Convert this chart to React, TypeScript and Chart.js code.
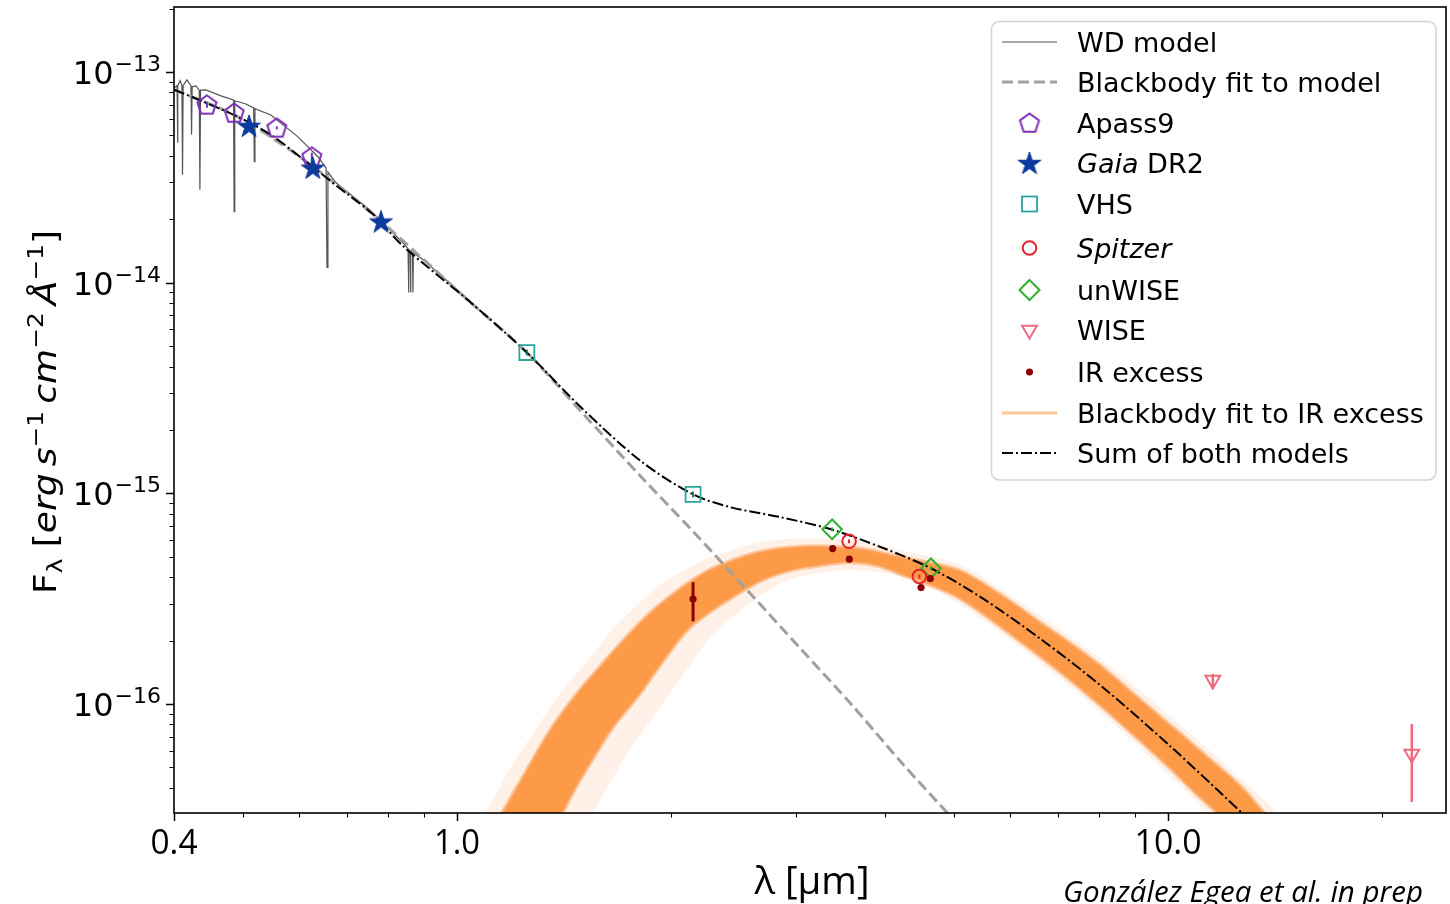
import React, { useEffect, useRef } from 'react';
import { Chart, registerables } from 'chart.js';

Chart.register(...registerables);

// ---------------- axis limits & ticks ----------------
const X_MIN = 0.4;
const X_MAX = 24.6;
const Y_MIN = 3.04e-17;
const Y_MAX = 2.034e-13;

const xMajorTicks = [0.4, 1, 10];
const xMajorLabels = ['0.4', '1.0', '10.0'];
const xMinorTicks = [0.5, 0.6, 0.7, 0.8, 0.9, 2, 3, 4, 5, 6, 7, 8, 9, 20];
const yMajorTicks = [1e-13, 1e-14, 1e-15, 1e-16];
const yMajorExponents = ['\u221213', '\u221214', '\u221215', '\u221216'];
const yMinorTicks = [
  2e-13, 9e-14, 8e-14, 7e-14, 6e-14, 5e-14, 4e-14, 3e-14, 2e-14,
  9e-15, 8e-15, 7e-15, 6e-15, 5e-15, 4e-15, 3e-15, 2e-15,
  9e-16, 8e-16, 7e-16, 6e-16, 5e-16, 4e-16, 3e-16, 2e-16,
  9e-17, 8e-17, 7e-17, 6e-17, 5e-17, 4e-17,
];

// ---------------- photometry ----------------
const apassLambda = [0.445, 0.486, 0.558, 0.625];
const apassFlux = [6.98e-14, 6.39e-14, 5.43e-14, 3.96e-14];
const apassErrLow = [6.76e-14, 6.19e-14, 5.34e-14, 3.79e-14];
const apassErrHigh = [7.21e-14, 6.6e-14, 5.52e-14, 4.14e-14];

const gaiaLambda = [0.51, 0.627, 0.782];
const gaiaFlux = [5.55e-14, 3.51e-14, 1.95e-14];

const vhsLambda = [1.254, 2.148];
const vhsFlux = [4.66e-15, 9.89e-16];
const vhsErrLow = [4.51e-15, 9.57e-16];
const vhsErrHigh = [4.81e-15, 1.02e-15];

const spitzerLambda = [3.56, 4.47];
const spitzerFlux = [5.92e-16, 4.03e-16];
const spitzerErrLow = [5.79e-16, 3.94e-16];
const spitzerErrHigh = [6.05e-16, 4.12e-16];

const unwiseLambda = [3.37, 4.64];
const unwiseFlux = [6.75e-16, 4.41e-16];
const unwiseErrLow = [6.6e-16, 4.31e-16];
const unwiseErrHigh = [6.9e-16, 4.51e-16];

const wiseLambda = [11.56, 22.02];
const wiseFlux = [1.3e-16, 5.79e-17];
const wiseErrLow = [1.18e-16, 3.43e-17];
const wiseErrHigh = [1.39e-16, 8.04e-17];

const irLambda = [2.148, 3.376, 3.563, 4.494, 4.631];
const irFlux = [3.15e-16, 5.47e-16, 4.87e-16, 3.57e-16, 3.94e-16];
const irErrLambda = [2.148];
const irErrLow = [2.47e-16];
const irErrHigh = [3.79e-16];

// ---------------- model curves ----------------
const wdLambda = [
  0.4, 0.404, 0.4046, 0.4052, 0.408, 0.4104, 0.4112, 0.412, 0.417, 0.4226, 0.4234, 0.4242,
  0.4294, 0.4341, 0.435, 0.4359, 0.4436, 0.4657, 0.485, 0.486, 0.487, 0.505, 0.5177, 0.5188,
  0.5199, 0.5474, 0.5976, 0.6374, 0.6545, 0.6565, 0.6585, 0.676, 0.757, 0.842, 0.8535, 0.8547,
  0.856, 0.859, 0.8603, 0.8616, 0.8658, 0.8671, 0.8684, 0.89, 1.046,
];
const wdFlux = [
  8.4e-14, 8.6e-14, 4.61e-14, 8.6e-14, 9.1e-14, 8.6e-14, 3.25e-14, 8.6e-14, 9.17e-14, 8.6e-14, 5.03e-14, 8.5e-14,
  8.58e-14, 8.2e-14, 2.76e-14, 8.2e-14, 8.22e-14, 7.7e-14, 7.37e-14, 2.17e-14, 7.3e-14, 7.05e-14, 6.75e-14, 3.75e-14,
  6.7e-14, 6.25e-14, 4.92e-14, 3.96e-14, 3.5e-14, 1.18e-14, 3.35e-14, 2.98e-14, 2.19e-14, 1.53e-14, 1.45e-14, 8.97e-15,
  1.43e-14, 1.42e-14, 8.97e-15, 1.41e-14, 1.39e-14, 8.97e-15, 1.38e-14, 1.31e-14, 8.13e-15,
];

const bbLambda = [0.4, 0.492, 0.609, 0.757, 1.046, 1.254, 1.494, 1.815, 2.134, 2.591, 3.047, 3.583, 4.212, 4.953];
const bbFlux = [8.25e-14, 6.12e-14, 3.83e-14, 2.15e-14, 8.04e-15, 4.66e-15, 2.45e-15, 1.2e-15, 6.75e-16, 3.32e-16, 1.82e-16, 1.0e-16, 5.31e-17, 2.91e-17];

const sumLambda = [0.4, 0.4406, 0.492, 0.5474, 0.609, 0.68, 0.757, 0.842, 1.046, 1.254, 1.494, 1.815, 2.148, 2.429, 2.855, 3.357, 3.95, 4.64, 5.458, 6.628, 8.05, 10.1, 12.88];
const sumFlux = [8.25e-14, 7.21e-14, 6.12e-14, 5.03e-14, 3.83e-14, 2.85e-14, 2.15e-14, 1.48e-14, 8.04e-15, 4.66e-15, 2.56e-15, 1.42e-15, 9.89e-16, 8.58e-16, 7.7e-16, 6.75e-16, 5.55e-16, 4.41e-16, 3.21e-16, 2.03e-16, 1.22e-16, 6.26e-17, 2.91e-17];

// envelope of the blackbody fits to the IR excess (outline: upper edge, then lower edge back)
const irBandCoreLambda = [
  1.081, 1.1605, 1.2545, 1.356, 1.4747, 1.61, 1.74, 1.874, 2.013, 2.154, 2.277, 2.405, 2.591, 2.792, 2.979,
  3.178, 3.445, 3.737, 4.212, 4.642, 5.115, 5.823, 6.628, 7.305, 8.05, 9.016, 10.1, 11.31, 12.67, 13.6, 15.23,
  13.08, 11.68, 10.95, 10.1, 9.016, 8.05, 7.305, 6.628, 5.823, 5.115, 4.642, 4.212, 3.886, 3.548, 3.178, 2.95,
  2.703, 2.452, 2.277, 2.114, 1.949, 1.797, 1.657, 1.543, 1.47, 1.41, 1.321,
];
const irBandCoreFlux = [
  2.0e-17, 3.08e-17, 4.87e-17, 7.61e-17, 1.12e-16, 1.58e-16, 2.12e-16, 2.73e-16, 3.32e-16, 3.91e-16, 4.36e-16, 4.71e-16, 5.14e-16, 5.43e-16, 5.55e-16,
  5.61e-16, 5.55e-16, 5.43e-16, 4.97e-16, 4.66e-16, 4.27e-16, 3.29e-16, 2.42e-16, 1.93e-16, 1.51e-16, 1.09e-16, 7.87e-17, 5.67e-17, 4.04e-17, 3.08e-17, 2.0e-17,
  2.0e-17, 3.08e-17, 3.75e-17, 4.92e-17, 6.98e-17, 9.78e-17, 1.29e-16, 1.67e-16, 2.32e-16, 3.15e-16, 3.66e-16, 4.13e-16, 4.56e-16, 4.71e-16, 4.51e-16, 4.32e-16,
  3.91e-16, 3.25e-16, 2.76e-16, 2.27e-16, 1.6e-16, 1.09e-16, 7.78e-17, 5.31e-17, 4.04e-17, 3.08e-17, 2.0e-17,
];
const irBandHaloLambda = [
  1.01, 1.0985, 1.191, 1.2915, 1.4005, 1.533, 1.657, 1.797, 1.936, 2.1, 2.24, 2.405, 2.591, 2.792, 3.178, 3.737,
  4.212, 5.115, 5.823, 6.628, 8.05, 10.1, 12.67, 14.19, 15.89,
  12.67, 11.31, 10.1, 8.05, 6.628, 5.115, 4.35, 3.823, 3.357, 2.902, 2.634, 2.469, 2.291, 2.134, 1.968, 1.815,
  1.701, 1.558, 1.461,
];
const irBandHaloFlux = [
  2.0e-17, 3.08e-17, 5.03e-17, 7.61e-17, 1.14e-16, 1.63e-16, 2.27e-16, 2.98e-16, 3.7e-16, 4.36e-16, 4.87e-16, 5.31e-16, 5.73e-16, 5.99e-16, 6.12e-16, 5.86e-16,
  5.37e-16, 4.56e-16, 3.51e-16, 2.61e-16, 1.63e-16, 8.68e-17, 4.41e-17, 3.08e-17, 2.0e-17,
  2.0e-17, 3.08e-17, 4.51e-17, 9.06e-17, 1.56e-16, 2.95e-16, 3.91e-16, 4.27e-16, 4.27e-16, 3.83e-16, 3.15e-16, 2.67e-16, 2.15e-16, 1.55e-16, 1.06e-16, 7.21e-17,
  5.19e-17, 3.08e-17, 2.0e-17,
];

// ---------------- styling ----------------
const C_APASS = '#7f2fb8';
const C_GAIA = '#0b3a9c';
const C_VHS = '#2aa59e';
const C_SPITZER = '#e3262c';
const C_UNWISE = '#2fb12f';
const C_WISE = '#ee6a7c';
const C_IR = '#8b0000';
const C_BAND = '#fd9a48';
const C_BAND_LEG = '#fdc796';
const C_WD = '#555555';
const C_BB = '#a0a0a0';

const pts = (xs: number[], ys: number[]) => xs.map((x, i) => ({ x, y: ys[i] }));

function makePentagon(R: number, color: string, lw: number) {
  const size = Math.ceil(2 * R + 4);
  const c = document.createElement('canvas');
  c.width = size;
  c.height = size;
  const g = c.getContext('2d')!;
  const cx = size / 2;
  const cy = size / 2 + R * 0.05;
  g.beginPath();
  for (let i = 0; i < 5; i++) {
    const a = -Math.PI / 2 + (i * 2 * Math.PI) / 5;
    g.lineTo(cx + (R - lw / 2) * Math.cos(a), cy + (R - lw / 2) * Math.sin(a));
  }
  g.closePath();
  g.strokeStyle = color;
  g.lineWidth = lw;
  g.stroke();
  return c;
}

function makeStar(R: number, color: string) {
  const size = Math.ceil(2 * R + 4);
  const c = document.createElement('canvas');
  c.width = size;
  c.height = size;
  const g = c.getContext('2d')!;
  const cx = size / 2;
  const cy = size / 2 + R * 0.08;
  const r = R * 0.382;
  g.beginPath();
  for (let i = 0; i < 10; i++) {
    const a = -Math.PI / 2 + (i * Math.PI) / 5;
    const rr = i % 2 === 0 ? R : r;
    g.lineTo(cx + rr * Math.cos(a), cy + rr * Math.sin(a));
  }
  g.closePath();
  g.fillStyle = color;
  g.fill();
  g.strokeStyle = color;
  g.lineWidth = 1;
  g.stroke();
  return c;
}

// draw text horizontally scaled so that it spans exactly targetW pixels
function fitText(
  ctx: CanvasRenderingContext2D, s: string, x: number, y: number, font: string, targetW: number, align: 'left' | 'center' | 'right' = 'left'
) {
  ctx.save();
  ctx.font = font;
  ctx.textAlign = 'left';
  ctx.textBaseline = 'alphabetic';
  const w = ctx.measureText(s).width;
  const sx = targetW / w;
  const x0 = align === 'center' ? x - targetW / 2 : align === 'right' ? x - targetW : x;
  ctx.translate(x0, y);
  ctx.scale(sx, 1);
  ctx.fillText(s, 0, 0);
  ctx.restore();
}

type Part = { t: string; f: string; dy?: number };
function richWidth(ctx: CanvasRenderingContext2D, parts: Part[]) {
  let w = 0;
  for (const p of parts) {
    ctx.font = p.f;
    w += ctx.measureText(p.t).width;
  }
  return w;
}
function drawRich(ctx: CanvasRenderingContext2D, parts: Part[], x: number, y: number) {
  let cx = x;
  for (const p of parts) {
    ctx.font = p.f;
    ctx.fillText(p.t, cx, y + (p.dy || 0));
    cx += ctx.measureText(p.t).width;
  }
}

const legendRowY = [42, 82, 123, 163, 204, 248, 290, 330, 372, 413, 453];

function makeDecor(pent: HTMLCanvasElement, star: HTMLCanvasElement) {
  return {
    id: 'decor',
    afterDraw(chart: any) {
      const ctx: CanvasRenderingContext2D = chart.ctx;
      const xs = chart.scales.x;
      const ys = chart.scales.y;
      const a = chart.chartArea;
      ctx.save();
      ctx.fillStyle = '#000';
      ctx.strokeStyle = '#000';

      // ---- frame ----
      ctx.lineWidth = 1.6;
      ctx.strokeRect(a.left, a.top, a.right - a.left, a.bottom - a.top);

      // ---- ticks ----
      ctx.beginPath();
      ctx.lineWidth = 1.5;
      for (const v of xMajorTicks) {
        const px = Math.round(xs.getPixelForValue(v)) + 0.5;
        ctx.moveTo(px, a.bottom);
        ctx.lineTo(px, a.bottom + 8);
      }
      for (const v of yMajorTicks) {
        const py = Math.round(ys.getPixelForValue(v)) + 0.5;
        ctx.moveTo(a.left, py);
        ctx.lineTo(a.left - 8, py);
      }
      ctx.stroke();
      ctx.beginPath();
      ctx.lineWidth = 1.1;
      for (const v of xMinorTicks) {
        const px = Math.round(xs.getPixelForValue(v)) + 0.5;
        ctx.moveTo(px, a.bottom);
        ctx.lineTo(px, a.bottom + 4.5);
      }
      for (const v of yMinorTicks) {
        if (v < Y_MIN || v > Y_MAX) continue;
        const py = Math.round(ys.getPixelForValue(v)) + 0.5;
        ctx.moveTo(a.left, py);
        ctx.lineTo(a.left - 4.5, py);
      }
      ctx.stroke();

      // ---- y tick labels 10^n ----
      ctx.textBaseline = 'alphabetic';
      ctx.textAlign = 'left';
      yMajorTicks.forEach((v, i) => {
        const py = ys.getPixelForValue(v);
        ctx.font = '22px "DejaVu Sans"';
        const ew = ctx.measureText(yMajorExponents[i]).width;
        ctx.font = '32px "DejaVu Sans"';
        const bw = ctx.measureText('10').width;
        const right = 161;
        ctx.fillText('10', right - ew - bw - 1, py + 12);
        ctx.font = '22px "DejaVu Sans"';
        ctx.fillText(yMajorExponents[i], right - ew, py - 1);
      });

      // ---- x tick labels ----
      const xLabelW = [47, 46, 67];
      xMajorTicks.forEach((v, i) => {
        const px = xs.getPixelForValue(v);
        fitText(ctx, xMajorLabels[i], px, 854, '35px "Open Sans"', xLabelW[i], 'center');
      });

      // ---- x title ----
      fitText(ctx, '\u03bb [\u03bcm]', 812, 894, '38px "Open Sans"', 115, 'center');

      // ---- y title ----
      {
        const B = '32px "DejaVu Sans"';
        const I = 'italic 32px "DejaVu Sans"';
        const S = '22px "DejaVu Sans"';
        const parts: Part[] = [
          { t: 'F', f: B },
          { t: '\u03bb', f: S, dy: 6 },
          { t: ' [', f: B },
          { t: 'erg\u2009s', f: I },
          { t: '\u22121', f: S, dy: -13 },
          { t: '\u2009cm', f: I },
          { t: '\u22122', f: S, dy: -13 },
          { t: '\u2009\u00c5', f: I },
          { t: '\u22121', f: S, dy: -13 },
          { t: ']', f: B },
        ];
        ctx.save();
        ctx.translate(56, 412);
        ctx.rotate(-Math.PI / 2);
        const w = richWidth(ctx, parts);
        const sx = 364 / w;
        ctx.scale(sx, 1);
        drawRich(ctx, parts, -w / 2, 0);
        ctx.restore();
      }

      // ---- credit ----
      fitText(ctx, 'Gonz\u00e1lez Egea et al. in prep', 1063, 902, 'italic 30px "Open Sans"', 360, 'left');

      // ---- legend ----
      ctx.beginPath();
      (ctx as any).roundRect(991.5, 21.5, 444.5, 458.5, 8);
      ctx.fillStyle = 'rgba(255,255,255,0.85)';
      ctx.fill();
      ctx.strokeStyle = '#d2d2d2';
      ctx.lineWidth = 1.5;
      ctx.stroke();

      const lx0 = 1002;
      const lx1 = 1057;
      const mx = 1029.5;
      const tx = 1077;
      const line = (y: number, color: string, lw: number, dash: number[]) => {
        ctx.save();
        ctx.beginPath();
        ctx.setLineDash(dash);
        ctx.strokeStyle = color;
        ctx.lineWidth = lw;
        ctx.moveTo(lx0, y);
        ctx.lineTo(lx1, y);
        ctx.stroke();
        ctx.restore();
      };
      const R = legendRowY;
      line(R[0], C_WD, 1.2, []);
      line(R[1], C_BB, 3, [11, 5]);
      ctx.drawImage(pent, mx - pent.width / 2, R[2] - pent.height / 2);
      ctx.drawImage(star, mx - star.width / 2, R[3] - star.height / 2);
      ctx.lineWidth = 1.8;
      ctx.strokeStyle = C_VHS;
      ctx.strokeRect(mx - 7.5, R[4] - 7.5, 15, 15);
      ctx.lineWidth = 2;
      ctx.strokeStyle = C_SPITZER;
      ctx.beginPath();
      ctx.arc(mx, R[5], 6.8, 0, Math.PI * 2);
      ctx.stroke();
      ctx.strokeStyle = C_UNWISE;
      ctx.beginPath();
      ctx.moveTo(mx, R[6] - 10);
      ctx.lineTo(mx + 10, R[6]);
      ctx.lineTo(mx, R[6] + 10);
      ctx.lineTo(mx - 10, R[6]);
      ctx.closePath();
      ctx.stroke();
      ctx.strokeStyle = C_WISE;
      ctx.beginPath();
      ctx.moveTo(mx, R[7] + 8.5);
      ctx.lineTo(mx + 7.4, R[7] - 4.3);
      ctx.lineTo(mx - 7.4, R[7] - 4.3);
      ctx.closePath();
      ctx.stroke();
      ctx.fillStyle = C_IR;
      ctx.beginPath();
      ctx.arc(mx, R[8], 3.5, 0, Math.PI * 2);
      ctx.fill();
      line(R[9], C_BAND_LEG, 3, []);
      line(R[10], '#000', 2, [11, 3, 2, 3]);

      ctx.fillStyle = '#000';
      ctx.textBaseline = 'alphabetic';
      const N = '27px "DejaVu Sans"';
      const It = 'italic 27px "DejaVu Sans"';
      const labels: Part[][] = [
        [{ t: 'WD model', f: N }],
        [{ t: 'Blackbody fit to model', f: N }],
        [{ t: 'Apass9', f: N }],
        [{ t: 'Gaia', f: It }, { t: ' DR2', f: N }],
        [{ t: 'VHS', f: N }],
        [{ t: 'Spitzer', f: It }],
        [{ t: 'unWISE', f: N }],
        [{ t: 'WISE', f: N }],
        [{ t: 'IR excess', f: N }],
        [{ t: 'Blackbody fit to IR excess', f: N }],
        [{ t: 'Sum of both models', f: N }],
      ];
      labels.forEach((parts, i) => drawRich(ctx, parts, tx, R[i] + 10));

      ctx.restore();
    },
  };
}

export default function App() {
  const ref = useRef<HTMLCanvasElement>(null);
  useEffect(() => {
    document.body.style.margin = '0';
    const pent = makePentagon(11, C_APASS, 2);
    const star = makeStar(12, C_GAIA);

    const errSets = (lam: number[], lo: number[], hi: number[], color: string, lw: number, order: number) =>
      lam.map((l, i) => ({
        label: 'err',
        data: [{ x: l, y: lo[i] }, { x: l, y: hi[i] }],
        showLine: true,
        borderColor: color,
        borderWidth: lw,
        pointRadius: 0,
        fill: false,
        order,
      }));

    const datasets: any[] = [
      {
        label: 'band halo',
        data: pts(irBandHaloLambda, irBandHaloFlux),
        showLine: true,
        fill: 'shape',
        tension: 0.35,
        backgroundColor: 'rgba(253,170,105,0.16)',
        borderColor: 'rgba(0,0,0,0)',
        borderWidth: 0,
        pointRadius: 0,
        order: 30,
      },
      {
        label: 'band core',
        data: pts(irBandCoreLambda, irBandCoreFlux),
        showLine: true,
        fill: 'shape',
        tension: 0.35,
        backgroundColor: C_BAND,
        borderColor: 'rgba(253,160,90,0.55)',
        borderWidth: 4,
        pointRadius: 0,
        order: 29,
      },
      {
        label: 'WD model',
        data: pts(wdLambda, wdFlux),
        showLine: true,
        borderColor: C_WD,
        borderWidth: 1.2,
        pointRadius: 0,
        fill: false,
        order: 20,
      },
      {
        label: 'Blackbody fit to model',
        data: pts(bbLambda, bbFlux),
        showLine: true,
        tension: 0.3,
        borderColor: C_BB,
        borderWidth: 3,
        borderDash: [11, 5],
        pointRadius: 0,
        fill: false,
        order: 19,
      },
      {
        label: 'Sum of both models',
        data: pts(sumLambda, sumFlux),
        showLine: true,
        tension: 0.3,
        borderColor: '#000',
        borderWidth: 2,
        borderDash: [11, 3, 2, 3],
        pointRadius: 0,
        fill: false,
        order: 10,
      },
      ...errSets(apassLambda, apassErrLow, apassErrHigh, C_APASS, 2, 6),
      ...errSets(vhsLambda, vhsErrLow, vhsErrHigh, '#1c6f6a', 2, 6),
      ...errSets(spitzerLambda, spitzerErrLow, spitzerErrHigh, C_SPITZER, 2, 6),
      ...errSets(unwiseLambda, unwiseErrLow, unwiseErrHigh, C_UNWISE, 2, 6),
      ...errSets(wiseLambda, wiseErrLow, wiseErrHigh, C_WISE, 2.5, 6),
      {
        label: 'Apass9',
        data: pts(apassLambda, apassFlux),
        showLine: false,
        pointStyle: pent,
        pointRadius: 11,
        order: 5,
      },
      {
        label: 'Gaia DR2',
        data: pts(gaiaLambda, gaiaFlux),
        showLine: false,
        pointStyle: star,
        pointRadius: 12,
        order: 4,
      },
      {
        label: 'VHS',
        data: pts(vhsLambda, vhsFlux),
        showLine: false,
        pointStyle: 'rect',
        pointRadius: 10.6,
        pointBorderWidth: 1.8,
        pointBorderColor: C_VHS,
        pointBackgroundColor: 'rgba(0,0,0,0)',
        order: 5,
      },
      {
        label: 'Spitzer',
        data: pts(spitzerLambda, spitzerFlux),
        showLine: false,
        pointStyle: 'circle',
        pointRadius: 6.8,
        pointBorderWidth: 2,
        pointBorderColor: C_SPITZER,
        pointBackgroundColor: 'rgba(0,0,0,0)',
        order: 5,
      },
      {
        label: 'unWISE',
        data: pts(unwiseLambda, unwiseFlux),
        showLine: false,
        pointStyle: 'rectRot',
        pointRadius: 9.8,
        pointBorderWidth: 2,
        pointBorderColor: C_UNWISE,
        pointBackgroundColor: 'rgba(0,0,0,0)',
        order: 5,
      },
      {
        label: 'WISE',
        data: pts(wiseLambda, wiseFlux),
        showLine: false,
        pointStyle: 'triangle',
        rotation: 180,
        pointRadius: 8.5,
        pointBorderWidth: 2,
        pointBorderColor: C_WISE,
        pointBackgroundColor: 'rgba(0,0,0,0)',
        order: 5,
      },
      ...errSets(irErrLambda, irErrLow, irErrHigh, C_IR, 3, 3),
      {
        label: 'IR excess',
        data: pts(irLambda, irFlux),
        showLine: false,
        pointStyle: 'circle',
        pointRadius: 3.6,
        pointBorderWidth: 0,
        pointBackgroundColor: C_IR,
        order: 2,
      },
    ];

    const chart = new Chart(ref.current!, {
      type: 'line',
      data: { datasets },
      options: {
        responsive: false,
        animation: false,
        events: [],
        layout: { autoPadding: false, padding: { top: 7, right: 4, left: 0, bottom: 0 } },
        plugins: { legend: { display: false }, tooltip: { enabled: false } },
        elements: { line: { tension: 0 } },
        scales: {
          x: {
            type: 'logarithmic',
            min: X_MIN,
            max: X_MAX,
            grid: { display: false },
            border: { display: false },
            ticks: { display: false },
            afterFit: (s: any) => {
              s.height = 91;
            },
          },
          y: {
            type: 'logarithmic',
            min: Y_MIN,
            max: Y_MAX,
            grid: { display: false },
            border: { display: false },
            ticks: { display: false },
            afterFit: (s: any) => {
              s.width = 174;
            },
          },
        },
      } as any,
      plugins: [makeDecor(pent, star)],
    });
    return () => chart.destroy();
  }, []);

  return (
    <div style={{ position: 'fixed', left: 0, top: 0, width: 1450, height: 904, background: '#fff' }}>
      <canvas ref={ref} width={1450} height={904} style={{ width: 1450, height: 904, display: 'block' }} />
    </div>
  );
}
